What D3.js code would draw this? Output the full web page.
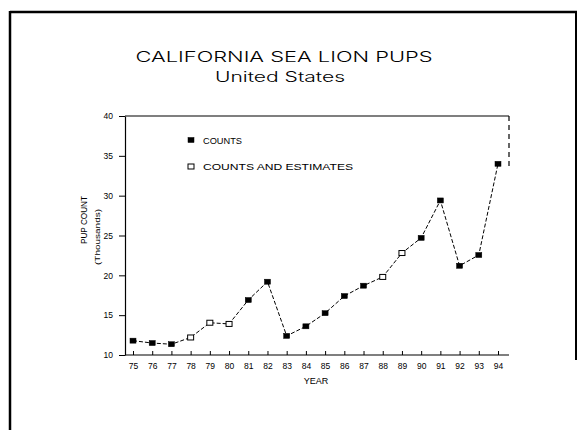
<!DOCTYPE html>
<html>
<head>
<meta charset="utf-8">
<script src="https://cdn.jsdelivr.net/npm/d3@7"></script>
<style>
  html, body { margin: 0; padding: 0; background: #fff; }
  svg { display: block; }
  text { font-family: "Liberation Sans", Arial, sans-serif; fill: #000; }
</style>
</head>
<body>
<svg id="chart" width="579" height="430"></svg>
<script>
// ---- data ----
const years = ["75","76","77","78","79","80","81","82","83","84","85","86","87","88","89","90","91","92","93","94"];
const pupCounts = [11.8, 11.5, 11.35, 12.2, 14.05, 13.9, 16.9, 19.2, 12.4, 13.6, 15.25, 17.4, 18.7, 19.8, 22.8, 24.7, 29.4, 21.2, 22.55, 34.0];
const estimatedYears = ["78","79","80","88","89"];
const yTicks = [10, 15, 20, 25, 30, 35, 40];
const legendLabels = ["COUNTS", "COUNTS AND ESTIMATES"];

const svg = d3.select("#chart");

// outer border of the scanned page
svg.append("line").attr("x1", 10).attr("x2", 577).attr("y1", 12).attr("y2", 12)
  .attr("stroke", "#000").attr("stroke-width", 2.5);
svg.append("line").attr("x1", 10).attr("x2", 10).attr("y1", 11).attr("y2", 430)
  .attr("stroke", "#000").attr("stroke-width", 2.5);
svg.append("line").attr("x1", 576).attr("x2", 576).attr("y1", 11).attr("y2", 360)
  .attr("stroke", "#000").attr("stroke-width", 2);

// titles
const titleFont = "Inter, 'Open Sans', 'Liberation Sans', sans-serif";
svg.append("text").attr("x", 284).attr("y", 62).attr("text-anchor", "middle")
  .style("font-family", titleFont).attr("font-weight", 300)
  .attr("font-size", 14).attr("textLength", 297).attr("lengthAdjust", "spacingAndGlyphs")
  .text("CALIFORNIA SEA LION PUPS");
svg.append("text").attr("x", 280).attr("y", 82).attr("text-anchor", "middle")
  .style("font-family", titleFont).attr("font-weight", 300)
  .attr("font-size", 14).attr("textLength", 130).attr("lengthAdjust", "spacingAndGlyphs")
  .text("United States");

// scales
const x = d3.scalePoint().domain(years).range([133, 498]).padding(0);
const y = d3.scaleLinear().domain([10, 40]).range([355, 116]);
const xLeft = 125, xRight = 509;

// y axis
const gy = svg.append("g").attr("transform", `translate(${xLeft},0)`)
  .call(d3.axisLeft(y).tickValues(yTicks).tickSize(6).tickPadding(6).tickSizeOuter(0));
gy.select(".domain").attr("stroke", "#000").attr("stroke-width", 1.2);
gy.selectAll(".tick line").attr("stroke", "#000").attr("stroke-width", 1);
gy.selectAll(".tick text").attr("font-size", 8.5).style("font-family", "Liberation Sans, Arial, sans-serif");

// x axis
const gx = svg.append("g").attr("transform", `translate(0,355)`)
  .call(d3.axisBottom(x).tickSize(-4).tickPadding(8).tickSizeOuter(0));
gx.select(".domain").attr("d", `M${xLeft},0H${xRight}`).attr("stroke", "#000").attr("stroke-width", 1.2);
gx.selectAll(".tick line").attr("stroke", "#000").attr("stroke-width", 1);
gx.selectAll(".tick text").attr("font-size", 8.5).style("font-family", "Liberation Sans, Arial, sans-serif");

// frame top and partial right
svg.append("line").attr("x1", xLeft).attr("x2", xRight).attr("y1", y(40)).attr("y2", y(40))
  .attr("stroke", "#000").attr("stroke-width", 1.2);
svg.append("line").attr("x1", xRight).attr("x2", xRight).attr("y1", y(40)).attr("y2", y(33.5))
  .attr("stroke", "#000").attr("stroke-width", 1.2).attr("stroke-dasharray", "5,4");

// axis titles
svg.append("text").attr("x", 316).attr("y", 384).attr("text-anchor", "middle")
  .attr("font-size", 9).text("YEAR");
svg.append("text").attr("transform", "translate(87,220) rotate(-90)").attr("text-anchor", "middle")
  .attr("font-size", 9).attr("textLength", 48).attr("lengthAdjust", "spacingAndGlyphs").text("PUP COUNT");
svg.append("text").attr("transform", "translate(100,237) rotate(-90)").attr("text-anchor", "middle")
  .attr("font-size", 8).attr("textLength", 56).attr("lengthAdjust", "spacingAndGlyphs").text("(Thousands)");

// line
const line = d3.line().x((d, i) => x(years[i])).y(d => y(d));
svg.append("path").datum(pupCounts).attr("d", line)
  .attr("fill", "none").attr("stroke", "#000").attr("stroke-width", 1).attr("stroke-dasharray", "4,2");

// markers
const pts = pupCounts.map((v, i) => ({ year: years[i], v, est: estimatedYears.includes(years[i]) }));
svg.selectAll("rect.pt").data(pts).join("rect").attr("class", "pt")
  .attr("x", d => x(d.year) - 3).attr("y", d => y(d.v) - 2.5)
  .attr("width", 6).attr("height", 5)
  .attr("fill", d => d.est ? "#fff" : "#000")
  .attr("stroke", "#000").attr("stroke-width", d => d.est ? 1 : 0.5);

// legend
const legend = svg.append("g");
legendLabels.forEach((lab, i) => {
  const ly = 140 + i * 26.5;
  legend.append("rect").attr("x", 188).attr("y", ly - 2.5).attr("width", 6).attr("height", 5)
    .attr("fill", i === 0 ? "#000" : "#fff").attr("stroke", "#000").attr("stroke-width", i === 0 ? 0.5 : 1);
  legend.append("text").attr("x", 203).attr("y", ly + 3.5).attr("font-size", 9.5)
    .attr("textLength", i === 0 ? 39 : 150).attr("lengthAdjust", "spacingAndGlyphs").text(lab);
});
</script>
</body>
</html>
